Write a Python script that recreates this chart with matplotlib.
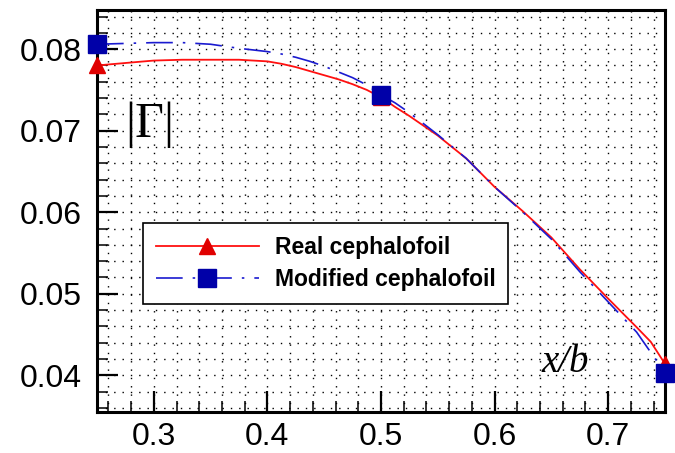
import matplotlib
matplotlib.use("Agg")
import matplotlib.pyplot as plt
from matplotlib.ticker import MultipleLocator

# DATA
x_vals = [0.25, 0.275, 0.30, 0.325, 0.35, 0.375, 0.3875, 0.40, 0.4125, 0.425, 0.4375,
          0.45, 0.4625, 0.475, 0.4875, 0.50, 0.5125, 0.525, 0.55, 0.575, 0.60, 0.625,
          0.65, 0.675, 0.70, 0.725, 0.7375, 0.75]
real_gamma = [0.0780, 0.0783, 0.0786, 0.0787, 0.0787, 0.0787, 0.0786, 0.0785, 0.0782, 0.0778, 0.0773,
              0.0768, 0.0763, 0.0757, 0.0750, 0.0741, 0.0729, 0.0718, 0.0694, 0.0666, 0.0631, 0.0601,
              0.0569, 0.0530, 0.0494, 0.0459, 0.0441, 0.0414]
modified_gamma = [0.0806, 0.0807, 0.0808, 0.0808, 0.0806, 0.0801, 0.0799, 0.0797, 0.0794, 0.0790, 0.0785,
                  0.0779, 0.0772, 0.0765, 0.0756, 0.0744, 0.0734, 0.0722, 0.0695, 0.0666, 0.0631, 0.0600,
                  0.0567, 0.0527, 0.0490, 0.0453, 0.0428, 0.0403]
marker_x = [0.25, 0.50, 0.75]
x_ticks = [0.3, 0.4, 0.5, 0.6, 0.7]
y_ticks = [0.04, 0.05, 0.06, 0.07, 0.08]

marker_idx = [x_vals.index(v) for v in marker_x]

# FIGURE
fig = plt.figure(figsize=(6.75, 4.53), dpi=100)
ax = fig.add_axes([97 / 675, 1 - 412 / 453, 568 / 675, 402 / 453])

ax.plot(x_vals, real_gamma, color="#ff1010", lw=1.3, marker="^", markersize=12,
        markevery=marker_idx, markerfacecolor="#e00000", markeredgecolor="#e00000",
        clip_on=False, zorder=3, label="Real cephalofoil")
ax.plot(x_vals, modified_gamma, color="#1a1ad0", lw=1.2, linestyle=(0, (16, 6, 1.5, 6)),
        marker="s", markersize=13, markevery=marker_idx, markerfacecolor="#0000a8",
        markeredgecolor="#0000a8", clip_on=False, zorder=4, label="Modified cephalofoil")

ax.set_xlim(0.25, 0.75)
ax.set_ylim(0.0355, 0.0848)
ax.set_xticks(x_ticks)
ax.set_yticks(y_ticks)
ax.xaxis.set_minor_locator(MultipleLocator(0.02))
ax.yaxis.set_minor_locator(MultipleLocator(0.002))
ax.set_xticklabels([f"{v:.1f}" for v in x_ticks])
ax.set_yticklabels([f"{v:.2f}" for v in y_ticks])

for lab in ax.get_xticklabels() + ax.get_yticklabels():
    lab.set_family("Liberation Sans")
    lab.set_fontsize(23)

ax.tick_params(which="major", direction="in", length=15, width=1.6)
ax.tick_params(which="minor", direction="in", length=8, width=1.1)
ax.tick_params(axis="x", which="major", pad=7)
ax.tick_params(axis="y", which="major", pad=11)
ax.tick_params(top=False, right=False)

for sp in ax.spines.values():
    sp.set_linewidth(2.2)

# dotted grid at every minor tick
ax.grid(which="both", color="black", linestyle=(0, (1, 5)), linewidth=1.0)
ax.set_axisbelow(True)

# labels inside the axes
ax.text(0.05, 0.714, "|Γ|", transform=ax.transAxes, family="Liberation Serif",
        fontsize=36, ha="left", va="center")
ax.text(0.824, 0.122, "x/b", transform=ax.transAxes, family="Liberation Serif",
        style="italic", fontsize=28, ha="center", va="center")

leg = ax.legend(loc="upper left", bbox_to_anchor=(0.081, 0.470), borderaxespad=0,
                prop={"family": "Liberation Sans", "weight": "bold", "size": 16.5},
                handlelength=4.5, fancybox=False, framealpha=1, edgecolor="black",
                borderpad=0.55, labelspacing=0.42, handletextpad=0.7)
leg.get_frame().set_linewidth(1.2)

fig.savefig("out.png", dpi=100)
plt.close(fig)
